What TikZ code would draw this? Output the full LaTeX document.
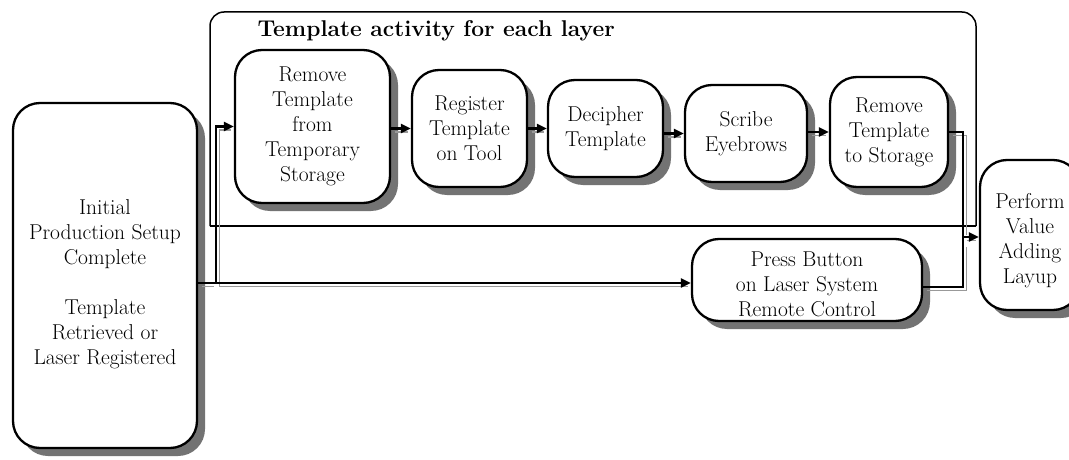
\documentclass[tikz,border=0pt]{standalone}
\usetikzlibrary{shadows,arrows.meta}
\tikzset{
  box/.style={draw, line width=2.3pt, rounded corners=27pt, fill=white, align=center,
    inner sep=0pt, font=\fontsize{21.5}{25}\selectfont,
    drop shadow={shadow xshift=8pt, shadow yshift=-8pt, fill=black!55, opacity=1}},
  conn/.style={line width=2.3pt,
    preaction={draw=black!40, line width=1.4pt, arrows=-, shorten >=6pt, transform canvas={xshift=3.5pt,yshift=-3.5pt}}},
  arr/.style={conn, -{Triangle[length=10pt,width=9pt]}},
  frame/.style={draw, line width=1.5pt},
}
\begin{document}
\begin{tikzpicture}[x=1pt,y=-1pt]
\clip (0,0) rectangle (1069,460);
\fill[white] (0,0) rectangle (1069,460);
% container
\draw[frame, rounded corners=14pt] (976,226) -- (976,12) -- (210,12) -- (210,226);
\draw[frame] (210,226) -- (976,226);
\node[anchor=base west, font=\bfseries\fontsize{22.8}{27}\selectfont] (title) at (254,37) {Template activity for each layer};
% nodes
\node[box, minimum width=184pt, minimum height=345pt] (init) at (105,275.5)
  {\rule{0pt}{33pt}Initial\\Production Setup\\Complete\\[25pt]Template\\Retrieved or\\Laser Registered};
\node[box, minimum width=155pt, minimum height=153pt] (rem1) at (312.5,126.5)
  {Remove\\Template\\from\\Temporary\\Storage};
\node[box, minimum width=115pt, minimum height=117pt] (reg) at (469.5,128.5)
  {Register\\Template\\on Tool};
\node[box, minimum width=115pt, minimum height=97pt] (dec) at (605.5,128.5)
  {Decipher\\Template};
\node[box, minimum width=122pt, minimum height=97pt] (scr) at (746,133.5)
  {Scribe\\Eyebrows};
\node[box, minimum width=118pt, minimum height=110pt] (rem2) at (889,132)
  {Remove\\Template\\to Storage};
\node[box, minimum width=230pt, minimum height=82pt] (press) at (807,280)
  {\rule{0pt}{24pt}Press Button\\on Laser System\\Remote Control};
\node[box, minimum width=100pt, minimum height=150pt] (perf) at (1030,235)
  {\rule{0pt}{26pt}Perform\\Value\\Adding\\Layup};
% connectors
\coordinate (j1) at (216,283);
\coordinate (j2) at (963,237);
\coordinate (j3) at (963,287);
\draw[conn] (init.east |- j1) -- (j1);
\draw[arr] (j1) |- (rem1.west);
\draw[arr] (j1) -- (press.west |- j1);
\draw[arr] (rem1.east |- reg.west) -- (reg.west);
\draw[arr] (reg.east) -- (dec.west);
\draw[arr] (dec.east |- scr.west) -- (scr.west);
\draw[arr] (scr.east |- rem2.west) -- (rem2.west);
\draw[conn] (rem2.east) -| (j2);
\draw[conn] (press.east |- j3) -- (j3) -- (j2);
\draw[arr] (j2) -- (perf.west |- j2);
\end{tikzpicture}
\end{document}
